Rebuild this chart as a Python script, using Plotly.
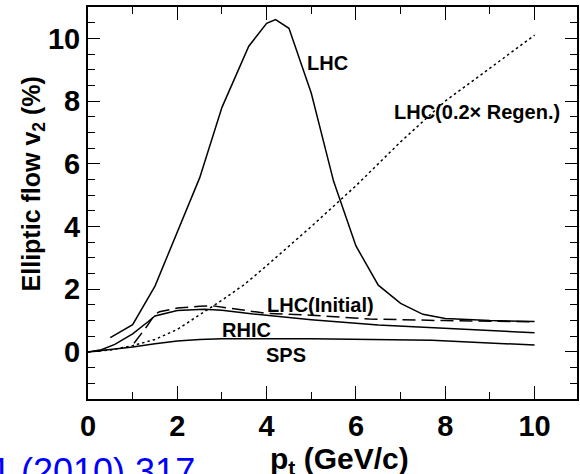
import plotly.graph_objects as go

# LHC (regeneration dominated, solid)
lhc_x = [0.5, 1.0, 1.5, 2.0, 2.5, 3.0, 3.6, 4.0, 4.2, 4.5, 5.0, 5.5, 6.0, 6.5, 7.0, 7.5, 8.0, 9.0, 10.0]
lhc_y = [0.46, 0.87, 2.1, 3.8, 5.55, 7.8, 9.75, 10.48, 10.6, 10.32, 8.25, 5.44, 3.38, 2.13, 1.55, 1.2, 1.07, 1.0, 0.97]

# LHC(0.2x Regen.) dotted
reg_x = [0.0, 0.5, 1.0, 1.5, 2.0, 2.5, 3.0, 3.5, 4.0, 5.0, 6.0, 7.0, 8.0, 9.0, 10.0]
reg_y = [0.0, 0.06, 0.2, 0.4, 0.72, 1.18, 1.65, 2.15, 2.75, 4.0, 5.3, 6.7, 8.0, 9.05, 10.1]

# LHC(Initial) dashed
ini_x = [1.03, 1.3, 1.5, 1.6, 2.0, 2.5, 2.8, 3.6, 4.0, 5.0, 6.3, 8.0, 10.0]
ini_y = [0.28, 0.78, 1.2, 1.28, 1.4, 1.46, 1.47, 1.3, 1.23, 1.17, 1.05, 1.0, 0.96]

# RHIC solid
rhic_x = [0.0, 0.3, 0.6, 1.0, 1.35, 1.5, 2.0, 2.6, 3.0, 3.7, 5.0, 6.5, 10.0]
rhic_y = [0.0, 0.07, 0.24, 0.58, 0.97, 1.15, 1.32, 1.36, 1.33, 1.21, 1.03, 0.86, 0.61]

# SPS solid
sps_x = [0.0, 0.5, 1.0, 1.5, 2.0, 2.5, 3.0, 5.0, 7.7, 10.0]
sps_y = [0.0, 0.07, 0.16, 0.26, 0.35, 0.4, 0.42, 0.42, 0.37, 0.22]

labels = ["LHC", "LHC(0.2\u00d7 Regen.)", "LHC(Initial)", "RHIC", "SPS"]
label_x = [5.36, 8.72, 5.21, 3.54, 4.44]
label_y = [9.22, 7.65, 1.5, 0.70, -0.10]

FONT = "Liberation Sans"

fig = go.Figure()
lw = 1.5
fig.add_trace(go.Scatter(x=lhc_x, y=lhc_y, mode="lines", line=dict(color="black", width=lw)))
fig.add_trace(go.Scatter(x=reg_x, y=reg_y, mode="lines", line=dict(color="black", width=lw, dash="2.5px,3px")))
fig.add_trace(go.Scatter(x=ini_x, y=ini_y, mode="lines", line=dict(color="black", width=lw, dash="13px,6px")))
fig.add_trace(go.Scatter(x=rhic_x, y=rhic_y, mode="lines", line=dict(color="black", width=lw)))
fig.add_trace(go.Scatter(x=sps_x, y=sps_y, mode="lines", line=dict(color="black", width=lw)))

for t, x, y in zip(labels, label_x, label_y):
    fig.add_annotation(x=x, y=y, xref="x", yref="y", text=t, showarrow=False,
                       font=dict(family=FONT, size=20, color="black", weight="bold"),
                       xanchor="center", yanchor="middle")

# axis titles
fig.add_annotation(x=-0.112, y=0.548, xref="paper", yref="paper", text="Elliptic flow v<sub>2</sub> (%)",
                   textangle=-90, showarrow=False, xanchor="center", yanchor="middle",
                   font=dict(family=FONT, size=25, color="black", weight="bold"))
fig.add_annotation(x=0.515, y=-0.104, xref="paper", yref="paper", text="p<sub>t</sub> (GeV/c)",
                   showarrow=False, xanchor="center", yanchor="top",
                   font=dict(family=FONT, size=30, color="black", weight="bold"))
# reference text (blue, partly cut at the page edge)
fig.add_annotation(x=(197 - 88) / 491, y=-0.1276, xref="paper", yref="paper", text="1 (2010) 317",
                   showarrow=False, xanchor="right", yanchor="top",
                   font=dict(family=FONT, size=36, color="#0000ff"))

axis_common = dict(showline=True, linecolor="black", linewidth=2, mirror="allticks",
                   ticks="inside", tickcolor="black", tickwidth=1.2, showgrid=False, zeroline=False,
                   tickfont=dict(family=FONT, size=29, color="black", weight="bold"))
fig.update_xaxes(range=[0, 10.95], dtick=2, tick0=0, ticklen=13,
                 minor=dict(dtick=1, ticklen=7, ticks="inside", tickcolor="black", tickwidth=1.2),
                 **axis_common)
fig.update_yaxes(range=[-1.5, 11], dtick=2, tick0=0, ticklen=12,
                 minor=dict(dtick=0.5, ticklen=7, ticks="inside", tickcolor="black", tickwidth=1.2),
                 **axis_common)

fig.update_layout(width=580, height=474, showlegend=False,
                  margin=dict(l=88, r=1, t=7, b=75),
                  plot_bgcolor="white", paper_bgcolor="white")

fig.write_html("out.html")
